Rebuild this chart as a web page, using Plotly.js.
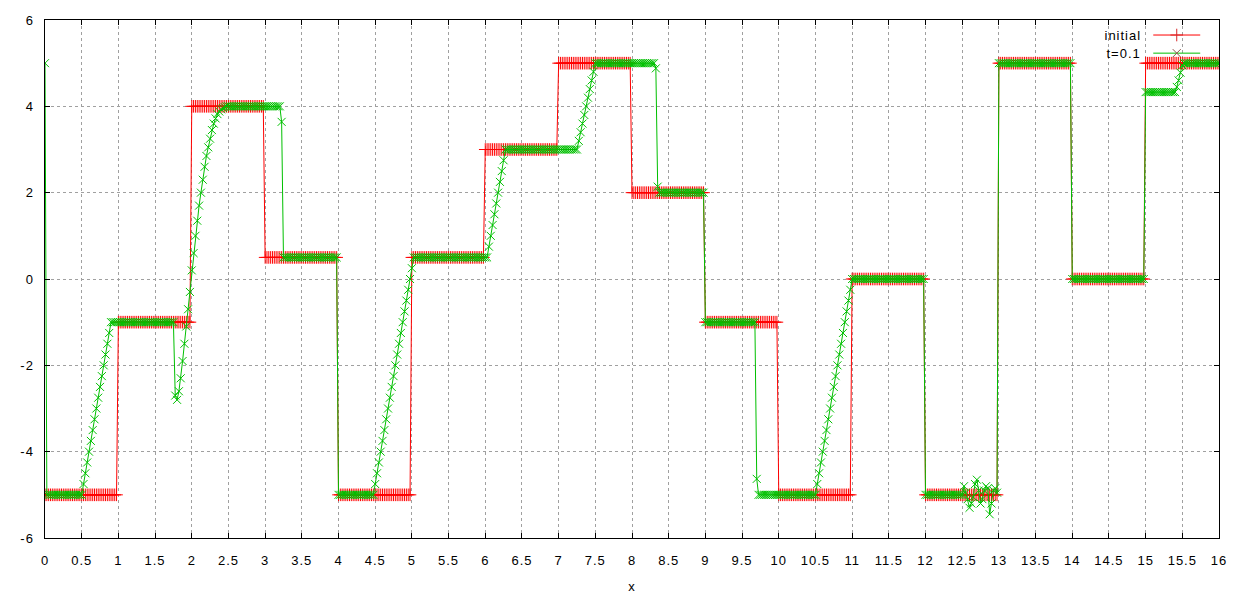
<!DOCTYPE html>
<html>
<head>
<meta charset="utf-8">
<script src="https://cdn.plot.ly/plotly-3.0.1.min.js"></script>
<style>
  html, body { margin: 0; padding: 0; background: #fff; }
  #chart { width: 1250px; height: 600px; }
  #chart text { letter-spacing: 1px; }
</style>
</head>
<body>
<div id="chart"></div>
<script>
// samples start at x = 0 and step by 0.025 (one row = one unit of x, 40 samples)
const xStart = 0;
const xStep = 0.025;

const initialY = [
  -5,-5,-5,-5,-5,-5,-5,-5,-5,-5,  -5,-5,-5,-5,-5,-5,-5,-5,-5,-5,  -5,-5,-5,-5,-5,-5,-5,-5,-5,-5,  -5,-5,-5,-5,-5,-5,-5,-5,-5,-5,
  -1,-1,-1,-1,-1,-1,-1,-1,-1,-1,  -1,-1,-1,-1,-1,-1,-1,-1,-1,-1,  -1,-1,-1,-1,-1,-1,-1,-1,-1,-1,  -1,-1,-1,-1,-1,-1,-1,-1,-1,-1,
  4,4,4,4,4,4,4,4,4,4,  4,4,4,4,4,4,4,4,4,4,  4,4,4,4,4,4,4,4,4,4,  4,4,4,4,4,4,4,4,4,4,
  0.5,0.5,0.5,0.5,0.5,0.5,0.5,0.5,0.5,0.5,  0.5,0.5,0.5,0.5,0.5,0.5,0.5,0.5,0.5,0.5,  0.5,0.5,0.5,0.5,0.5,0.5,0.5,0.5,0.5,0.5,  0.5,0.5,0.5,0.5,0.5,0.5,0.5,0.5,0.5,0.5,
  -5,-5,-5,-5,-5,-5,-5,-5,-5,-5,  -5,-5,-5,-5,-5,-5,-5,-5,-5,-5,  -5,-5,-5,-5,-5,-5,-5,-5,-5,-5,  -5,-5,-5,-5,-5,-5,-5,-5,-5,-5,
  0.5,0.5,0.5,0.5,0.5,0.5,0.5,0.5,0.5,0.5,  0.5,0.5,0.5,0.5,0.5,0.5,0.5,0.5,0.5,0.5,  0.5,0.5,0.5,0.5,0.5,0.5,0.5,0.5,0.5,0.5,  0.5,0.5,0.5,0.5,0.5,0.5,0.5,0.5,0.5,0.5,
  3,3,3,3,3,3,3,3,3,3,  3,3,3,3,3,3,3,3,3,3,  3,3,3,3,3,3,3,3,3,3,  3,3,3,3,3,3,3,3,3,3,
  5,5,5,5,5,5,5,5,5,5,  5,5,5,5,5,5,5,5,5,5,  5,5,5,5,5,5,5,5,5,5,  5,5,5,5,5,5,5,5,5,5,
  2,2,2,2,2,2,2,2,2,2,  2,2,2,2,2,2,2,2,2,2,  2,2,2,2,2,2,2,2,2,2,  2,2,2,2,2,2,2,2,2,2,
  -1,-1,-1,-1,-1,-1,-1,-1,-1,-1,  -1,-1,-1,-1,-1,-1,-1,-1,-1,-1,  -1,-1,-1,-1,-1,-1,-1,-1,-1,-1,  -1,-1,-1,-1,-1,-1,-1,-1,-1,-1,
  -5,-5,-5,-5,-5,-5,-5,-5,-5,-5,  -5,-5,-5,-5,-5,-5,-5,-5,-5,-5,  -5,-5,-5,-5,-5,-5,-5,-5,-5,-5,  -5,-5,-5,-5,-5,-5,-5,-5,-5,-5,
  0,0,0,0,0,0,0,0,0,0,  0,0,0,0,0,0,0,0,0,0,  0,0,0,0,0,0,0,0,0,0,  0,0,0,0,0,0,0,0,0,0,
  -5,-5,-5,-5,-5,-5,-5,-5,-5,-5,  -5,-5,-5,-5,-5,-5,-5,-5,-5,-5,  -5,-5,-5,-5,-5,-5,-5,-5,-5,-5,  -5,-5,-5,-5,-5,-5,-5,-5,-5,-5,
  5,5,5,5,5,5,5,5,5,5,  5,5,5,5,5,5,5,5,5,5,  5,5,5,5,5,5,5,5,5,5,  5,5,5,5,5,5,5,5,5,5,
  0,0,0,0,0,0,0,0,0,0,  0,0,0,0,0,0,0,0,0,0,  0,0,0,0,0,0,0,0,0,0,  0,0,0,0,0,0,0,0,0,0,
  5,5,5,5,5,5,5,5,5,5,  5,5,5,5,5,5,5,5,5,5,  5,5,5,5,5,5,5,5,5,5,  5,5,5,5,5,5,5,5,5,5,
  5
];

const laterY = [
  5,-5,-5,-5,-5,-5,-5,-5,-5,-5,  -5,-5,-5,-5,-5,-5,-5,-5,-5,-5,  -5,-4.75,-4.5,-4.25,-4,-3.75,-3.5,-3.25,-3,-2.75,  -2.5,-2.25,-2,-1.75,-1.5,-1.25,-1,-1,-1,-1,
  -1,-1,-1,-1,-1,-1,-1,-1,-1,-1,  -1,-1,-1,-1,-1,-1,-1,-1,-1,-1,  -1,-1,-1,-1,-1,-1,-1,-1,-1,-1,  -1,-2.7,-2.8,-2.6,-2.3,-1.9,-1.5,-1.1,-0.7,-0.3,
  0.2,0.6,1.0,1.35,1.7,2.0,2.3,2.6,2.85,3.05,  3.25,3.45,3.6,3.72,3.82,3.88,3.93,3.96,3.98,4,  4,4,4,4,4,4,4,4,4,4,  4,4,4,4,4,4,4,4,4,4,
  4,4,4,4,4,4,4,4,4,3.64,  0.5,0.5,0.5,0.5,0.5,0.5,0.5,0.5,0.5,0.5,  0.5,0.5,0.5,0.5,0.5,0.5,0.5,0.5,0.5,0.5,  0.5,0.5,0.5,0.5,0.5,0.5,0.5,0.5,0.5,0.5,
  -5,-5,-5,-5,-5,-5,-5,-5,-5,-5,  -5,-5,-5,-5,-5,-5,-5,-5,-5,-5,  -4.75,-4.5,-4.25,-4,-3.75,-3.5,-3.25,-3,-2.75,-2.5,  -2.25,-2,-1.75,-1.5,-1.25,-1,-0.75,-0.5,-0.25,0,
  0.25,0.5,0.5,0.5,0.5,0.5,0.5,0.5,0.5,0.5,  0.5,0.5,0.5,0.5,0.5,0.5,0.5,0.5,0.5,0.5,  0.5,0.5,0.5,0.5,0.5,0.5,0.5,0.5,0.5,0.5,  0.5,0.5,0.5,0.5,0.5,0.5,0.5,0.5,0.5,0.5,
  0.5,0.5,0.75,1.0,1.25,1.5,1.75,2.0,2.25,2.5,  2.75,3,3,3,3,3,3,3,3,3,  3,3,3,3,3,3,3,3,3,3,  3,3,3,3,3,3,3,3,3,3,
  3,3,3,3,3,3,3,3,3,3,  3,3.2,3.4,3.6,3.8,4.0,4.2,4.4,4.6,4.8,  5,5,5,5,5,5,5,5,5,5,  5,5,5,5,5,5,5,5,5,5,
  5,5,5,5,5,5,5,5,5,5,  5,5,5,4.88,2.14,2,2,2,2,2,  2,2,2,2,2,2,2,2,2,2,  2,2,2,2,2,2,2,2,2,2,
  -1,-1,-1,-1,-1,-1,-1,-1,-1,-1,  -1,-1,-1,-1,-1,-1,-1,-1,-1,-1,  -1,-1,-1,-1,-1,-1,-1,-1,-4.63,-5,  -5,-5,-5,-5,-5,-5,-5,-5,-5,-5,
  -5,-5,-5,-5,-5,-5,-5,-5,-5,-5,  -5,-5,-5,-5,-5,-5,-5,-5,-5,-5,  -5,-4.75,-4.5,-4.25,-4,-3.75,-3.5,-3.25,-3,-2.75,  -2.5,-2.25,-2,-1.75,-1.5,-1.25,-1,-0.75,-0.5,-0.25,
  0,0,0,0,0,0,0,0,0,0,  0,0,0,0,0,0,0,0,0,0,  0,0,0,0,0,0,0,0,0,0,  0,0,0,0,0,0,0,0,0,0,
  -5,-5,-5,-5,-5,-5,-5,-5,-5,-5,  -5,-5,-5,-5,-5,-5,-5,-5,-5,-5,  -5,-4.8,-4.95,-5.1,-5.3,-5.2,-5.05,-4.75,-4.65,-4.9,  -5.2,-5.1,-4.9,-4.8,-4.85,-5.45,-5.2,-4.9,-4.85,-4.95,
  5,5,5,5,5,5,5,5,5,5,  5,5,5,5,5,5,5,5,5,5,  5,5,5,5,5,5,5,5,5,5,  5,5,5,5,5,5,5,5,5,5,
  0,0,0,0,0,0,0,0,0,0,  0,0,0,0,0,0,0,0,0,0,  0,0,0,0,0,0,0,0,0,0,  0,0,0,0,0,0,0,0,0,0,
  4.33,4.33,4.33,4.33,4.33,4.33,4.33,4.33,4.33,4.33,  4.33,4.33,4.33,4.33,4.33,4.33,4.33,4.45,4.6,4.78,  4.95,5,5,5,5,5,5,5,5,5,  5,5,5,5,5,5,5,5,5,5,
  5
];

const seriesNames = ['initial', 't=0.1'];
const seriesColors = ['#ff0000', '#00c000'];
const seriesSymbols = ['cross-thin-open', 'x-thin-open'];
const xTickVals = [0,0.5,1,1.5,2,2.5,3,3.5,4,4.5,5,5.5,6,6.5,7,7.5,8,8.5,9,9.5,10,10.5,11,11.5,12,12.5,13,13.5,14,14.5,15,15.5,16];
const yTickVals = [-6,-4,-2,0,2,4,6];

const FONT = 'Liberation Sans, Arial, sans-serif';

const traces = [initialY, laterY].map((ys, i) => ({
  type: 'scatter',
  mode: 'lines+markers',
  name: seriesNames[i],
  x0: xStart,
  dx: xStep,
  y: ys,
  showlegend: false,
  line: { color: seriesColors[i], width: 1 },
  marker: { symbol: seriesSymbols[i], size: i === 0 ? 9 : 8, line: { color: seriesColors[i], width: 1 } }
}));

// gnuplot style key: label on the left, sample line with a marker on the right.
// drawn on an overlay axis that spans the plot area from 0 to 1
const keyRows = [0.971, 0.936];
const keyLine = [0.944, 0.984];
const keyMid = 0.964;
const keyTextX = 0.933;

seriesNames.forEach((name, i) => {
  traces.push({
    type: 'scatter', mode: 'lines', xaxis: 'x2', yaxis: 'y2', showlegend: false,
    x: keyLine, y: [keyRows[i], keyRows[i]],
    line: { color: seriesColors[i], width: 1 }, hoverinfo: 'skip'
  });
  traces.push({
    type: 'scatter', mode: 'markers', xaxis: 'x2', yaxis: 'y2', showlegend: false,
    x: [keyMid], y: [keyRows[i]],
    marker: { symbol: seriesSymbols[i], size: i === 0 ? 9 : 8, line: { color: seriesColors[i], width: 1 } },
    hoverinfo: 'skip'
  });
});

const annotations = seriesNames.map((name, i) => ({
  xref: 'paper', yref: 'paper',
  x: keyTextX, y: keyRows[i],
  xanchor: 'right', yanchor: 'middle',
  text: name, showarrow: false,
  font: { family: FONT, size: 13, color: '#000' }
}));

const axisCommon = {
  showline: true,
  linecolor: '#000',
  linewidth: 1,
  mirror: 'ticks',
  ticks: 'inside',
  ticklen: 5,
  tickcolor: '#000',
  showgrid: true,
  gridcolor: '#a0a0a0',
  griddash: 'dot',
  gridwidth: 1,
  zeroline: false,
  tickfont: { family: FONT, size: 13, color: '#000' }
};

const layout = {
  width: 1250,
  height: 600,
  margin: { l: 45, r: 31, t: 20, b: 62 },
  paper_bgcolor: '#fff',
  plot_bgcolor: '#fff',
  font: { family: FONT, size: 13, color: '#000' },
  showlegend: false,
  annotations: annotations,
  xaxis: Object.assign({}, axisCommon, {
    range: [0, 16],
    tickmode: 'array',
    tickvals: xTickVals,
    ticktext: xTickVals.map(String),
    ticklabelstandoff: 10,
    title: { text: 'x', font: { family: FONT, size: 13, color: '#000' }, standoff: 15 }
  }),
  yaxis: Object.assign({}, axisCommon, {
    range: [-6, 6],
    tickmode: 'array',
    tickvals: yTickVals,
    ticktext: yTickVals.map(v => String(v) + '\u2002')
  }),
  xaxis2: { overlaying: 'x', range: [0, 1], visible: false, fixedrange: true },
  yaxis2: { overlaying: 'y', range: [0, 1], visible: false, fixedrange: true }
};

Plotly.newPlot('chart', traces, layout, { displayModeBar: false, staticPlot: true });
</script>
</body>
</html>
